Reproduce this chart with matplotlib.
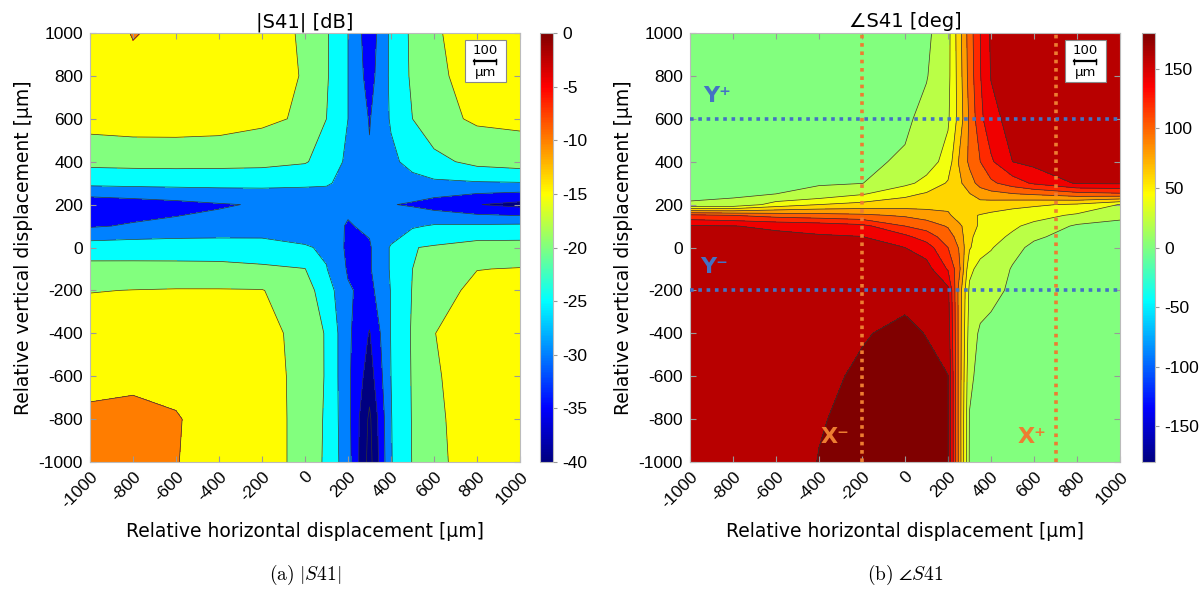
import numpy as np
import matplotlib.pyplot as plt
from matplotlib.colors import LinearSegmentedColormap, Normalize
from matplotlib.patches import Rectangle
import matplotlib.cm as cm

plt.rcParams['font.family'] = ['DejaVu Sans']
plt.rcParams['mathtext.fontset'] = 'cm'
plt.rcParams['axes.unicode_minus'] = False

# ---- |S41| [dB], grid in um ----
mag_x = [-1000, -800, -600, -400, -200, 0, 100, 200, 300, 400, 500, 600, 800, 1000]
mag_y = [-1000, -800, -600, -400, -200, -100, 0, 100, 200, 300, 400, 600, 800, 1000]
mag_db = [
    [-8.0, -8.2, -9.9, -11.2, -13.2, -16.3, -21.0, -28.0, -42.0, -25.3, -19.8, -16.0, -13.0, -12.5],
    [-9.2, -9.0, -9.8, -11.2, -13.2, -16.3, -20.8, -28.5, -41.0, -25.2, -19.7, -15.8, -12.9, -12.3],
    [-11.2, -10.8, -10.8, -11.5, -13.3, -16.3, -20.5, -29.0, -37.5, -25.0, -19.6, -15.5, -12.7, -12.2],
    [-12.0, -11.8, -11.8, -12.2, -13.5, -16.5, -20.5, -29.0, -35.3, -24.8, -19.5, -15.1, -12.5, -12.0],
    [-15.2, -14.9, -14.7, -14.7, -14.8, -18.0, -22.5, -29.5, -31.5, -24.8, -19.8, -17.0, -13.8, -13.5],
    [-18.5, -18.6, -18.7, -18.8, -19.3, -19.9, -24.8, -30.5, -30.5, -24.5, -20.0, -17.5, -15.1, -14.8],
    [-22.5, -22.3, -22.2, -22.2, -22.5, -24.5, -25.8, -31.0, -30.5, -24.5, -20.2, -19.5, -18.0, -18.0],
    [-30.5, -29.5, -28.8, -28.5, -28.2, -28.0, -28.5, -30.3, -29.3, -28.0, -25.6, -24.5, -24.2, -23.9],
    [-33.5, -32.5, -31.5, -30.4, -29.6, -29.3, -29.2, -29.3, -29.5, -29.8, -30.5, -32.0, -34.8, -36.5],
    [-23.8, -23.6, -23.5, -23.5, -23.6, -24.0, -24.3, -27.0, -29.5, -28.0, -26.5, -25.8, -25.5, -25.3],
    [-18.6, -18.4, -18.3, -18.4, -18.6, -19.6, -22.0, -26.0, -29.5, -26.0, -23.5, -21.5, -18.5, -17.5],
    [-13.0, -12.5, -12.5, -12.8, -14.0, -15.7, -20.0, -25.0, -30.3, -24.5, -20.0, -16.5, -14.3, -14.0],
    [-12.5, -11.0, -11.5, -12.3, -13.8, -15.2, -19.5, -25.0, -32.0, -24.0, -19.2, -15.8, -13.5, -12.5],
    [-12.5, -9.8, -11.0, -12.0, -14.0, -15.3, -19.5, -25.0, -33.0, -24.0, -19.0, -15.5, -13.0, -12.0],
]
mag_levels = [-40, -35, -30, -25, -20, -15, -10, -5, 0]

# ---- angle S41 [deg], grid in um ----
ph_x = [-1000, -800, -600, -400, -200, 0, 100, 200, 250, 300, 350, 400, 500, 600, 800, 1000]
ph_y = [-1000, -800, -600, -400, -200, -100, 0, 50, 100, 150, 200, 250, 300, 400, 600, 800, 1000]
ph_deg = [
    [165, 167, 171, 180.5, 185, 187, 186, 181, 96, 18, 11, 10, 9, 9, 8, 8],
    [166, 168, 172, 179, 184, 186, 185, 181, 95, 19, 12, 11, 10, 9, 9, 8],
    [168, 170, 173, 177, 182, 185, 184, 180.3, 95, 24, 14, 12, 11, 10, 9, 9],
    [170, 172, 174, 176, 179, 183, 179.5, 172, 95, 30, 17, 15, 12, 11, 10, 9],
    [172, 172, 172, 173, 174, 176, 175, 165, 95, 36, 30, 25, 17, 14, 11, 10],
    [171, 171, 171, 171, 172, 170, 168, 138, 108, 45, 33, 28, 19, 15, 11, 10],
    [168, 168, 167, 166, 166, 160, 150, 120, 99, 62, 48, 42, 24, 17, 13, 11],
    [167, 166, 164, 162, 160.5, 145, 130, 110, 92, 64, 52, 46, 37, 22, 15, 13],
    [162, 160.5, 157, 153, 146, 120, 112, 98, 85, 68, 57, 50, 43, 35, 17, 15],
    [125, 120, 112, 108, 104, 97, 90, 84, 70, 63, 59, 56, 51, 47, 37, 24],
    [21.5, 24, 48, 60, 66, 70, 72, 73, 74, 74, 72, 70, 66, 63, 57, 39],
    [17, 17.5, 20, 25, 38, 55, 62, 70, 74, 79, 90, 94, 99, 103, 113, 117],
    [15, 16, 17, 18.5, 19.5, 35, 46, 62, 75, 92, 107, 116, 130, 143, 162, 163],
    [11, 12, 13, 14, 17, 22, 30, 48, 81, 104, 120, 137, 160, 166, 168, 169],
    [8, 9, 10, 11, 14, 17, 25, 37, 66, 103, 135, 153, 168, 169, 171, 172],
    [8, 8, 9, 10, 12, 15, 19, 34, 68, 108, 139, 161, 169, 171, 173, 174],
    [8, 8, 9, 10, 12, 14, 16, 33, 70, 110, 140, 163, 170, 172, 174, 175],
]
ph_levels = [0, 20, 40, 60, 80, 100, 120, 140, 160, 180]

# marker lines drawn on the phase map
x_marks = [-200, 700]
y_marks = [600, -200]

ticks_um = list(range(-1000, 1001, 200))

# MATLAB style jet
mjet = LinearSegmentedColormap.from_list(
    'mjet', [(0, (0, 0, 0.5)), (0.125, (0, 0, 1)), (0.375, (0, 1, 1)),
             (0.625, (1, 1, 0)), (0.875, (1, 0, 0)), (1, (0.5, 0, 0))], N=256)


def style_axes(ax, title):
    ax.set_xlim(-1000, 1000)
    ax.set_ylim(-1000, 1000)
    ax.set_xticks(ticks_um)
    ax.set_yticks(ticks_um)
    ax.set_xticklabels([str(t) for t in ticks_um], rotation=45, ha='right',
                       va='top', rotation_mode='anchor', family='Liberation Sans')
    ax.set_yticklabels([str(t) for t in ticks_um], family='Liberation Sans')
    ax.tick_params(direction='in', top=True, right=True, length=4, labelsize=12.5,
                   color='#999999', pad=5)
    for s in ax.spines.values():
        s.set_color('#bbbbbb')
        s.set_linewidth(0.8)
    ax.set_xlabel('Relative horizontal displacement [μm]', fontsize=13.5, labelpad=8)
    ax.set_ylabel('Relative vertical displacement [μm]', fontsize=13.5, labelpad=4)
    ax.set_title(title, fontsize=14, pad=4)
    # scale bar box
    ax.add_patch(Rectangle((742, 770), 193, 198, facecolor='white',
                           edgecolor='#888888', lw=0.8, zorder=5))
    ax.text(838, 918, '100', ha='center', va='center', fontsize=9.5, zorder=6)
    ax.plot([788, 888], [868, 868], color='black', lw=1.6, zorder=6)
    ax.plot([788, 788], [856, 880], color='black', lw=1.0, zorder=6)
    ax.plot([888, 888], [856, 880], color='black', lw=1.0, zorder=6)
    ax.text(838, 818, 'μm', ha='center', va='center', fontsize=9.5, zorder=6)


fig = plt.figure(figsize=(12, 5.9), dpi=100)
bottom, height = 1 - 462 / 590, 429 / 590
ax1 = fig.add_axes([90 / 1200, bottom, 430 / 1200, height])
cax1 = fig.add_axes([540 / 1200, bottom, 13 / 1200, height])
ax2 = fig.add_axes([690 / 1200, bottom, 430 / 1200, height])
cax2 = fig.add_axes([1142 / 1200, bottom, 13 / 1200, height])

# left: magnitude
MX, MY = np.meshgrid(mag_x, mag_y)
MZ = np.array(mag_db)
mag_cols = [mjet((l + 40) / 40) for l in mag_levels[:-1]]
ax1.contourf(MX, MY, MZ, levels=[-60] + mag_levels[1:], colors=mag_cols)
ax1.contour(MX, MY, MZ, levels=mag_levels[:-1], colors='#333333',
            linewidths=0.5, linestyles='solid')
style_axes(ax1, '|S41| [dB]')

cb1 = fig.colorbar(cm.ScalarMappable(norm=Normalize(-40, 0), cmap=mjet), cax=cax1,
                   ticks=mag_levels)
cb1.ax.tick_params(labelsize=12.5, length=3, color='#999999')
cb1.outline.set_edgecolor('#bbbbbb')
for t in cb1.ax.get_yticklabels():
    t.set_family('Liberation Sans')

# right: phase
PX, PY = np.meshgrid(ph_x, ph_y)
PZ = np.array(ph_deg)
ph_cols = [mjet((l + 180) / 360) for l in ph_levels]
ax2.contourf(PX, PY, PZ, levels=ph_levels + [260], colors=ph_cols)
ax2.contour(PX, PY, PZ, levels=ph_levels[1:], colors='#333333',
            linewidths=0.5, linestyles='solid')
style_axes(ax2, '∠S41 [deg]')

for xm in x_marks:
    ax2.plot([xm, xm], [-1000, 1000], color='#ED7D31', lw=2.6,
             linestyle=(0, (1, 1.3)), zorder=4)
for ym in y_marks:
    ax2.plot([-1000, 1000], [ym, ym], color='#4472C4', lw=2.6,
             linestyle=(0, (1, 1.3)), zorder=4)
ax2.text(-875, 705, 'Y⁺', color='#4472C4', fontsize=16, fontweight='bold',
         ha='center', va='center', zorder=6)
ax2.text(-890, -90, 'Y⁻', color='#4472C4', fontsize=16, fontweight='bold',
         ha='center', va='center', zorder=6)
ax2.text(-325, -885, 'X⁻', color='#ED7D31', fontsize=16, fontweight='bold',
         ha='center', va='center', zorder=6)
ax2.text(590, -885, 'X⁺', color='#ED7D31', fontsize=16, fontweight='bold',
         ha='center', va='center', zorder=6)

cb2 = fig.colorbar(cm.ScalarMappable(norm=Normalize(-180, 180), cmap=mjet), cax=cax2,
                   ticks=[-150, -100, -50, 0, 50, 100, 150])
cb2.ax.tick_params(labelsize=12.5, length=3, color='#999999')
cb2.outline.set_edgecolor('#bbbbbb')
for t in cb2.ax.get_yticklabels():
    t.set_family('Liberation Sans')

fig.text(305 / 1200, 0.025, r'$\mathrm{(a)}\ |S41|$', ha='center', va='center', fontsize=14)
fig.text(905 / 1200, 0.025, r'$\mathrm{(b)}\ \angle S41$', ha='center', va='center', fontsize=14)

fig.savefig('out.png', dpi=100)
